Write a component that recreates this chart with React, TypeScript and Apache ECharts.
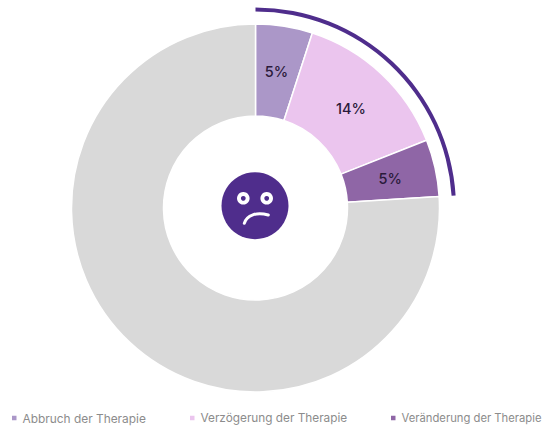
import React, { useEffect, useRef } from "react";
import * as echarts from "echarts";

const categories = ["Abbruch der Therapie", "Verzögerung der Therapie", "Veränderung der Therapie", "Sonstige"];
const shares = [5, 14, 5, 76];
const labels = ["5%", "14%", "5%", ""];
const colors = ["#AB97C8", "#EBC5EE", "#8F66A6", "#D9D9D9"];
const arcValues = [24, 76];
const legendLefts = [5, 183, 384];
const legendFontSizes = [11.9, 11.8, 11.26];

const FONT = "Inter, 'Noto Sans', sans-serif";
const DARK = "#4F2D8C";

export default function App() {
  const ref = useRef<HTMLDivElement>(null);
  useEffect(() => {
    const chart = echarts.init(ref.current!, null, { renderer: "svg" });
    const cx = 255.5;
    const cy = 208;
    chart.setOption({
      animation: false,
      backgroundColor: "#ffffff",
      legend: categories.slice(0, 3).map((name, i) => ({
        data: [name],
        left: legendLefts[i],
        top: 406,
        icon: "rect",
        itemWidth: 6.5,
        itemHeight: 6.5,
        textStyle: { color: "#8c8c8c", fontSize: legendFontSizes[i], lineHeight: 14, fontFamily: FONT },
      })),
      series: [
        {
          type: "pie",
          center: [cx, cy],
          radius: [92, 184],
          startAngle: 90,
          clockwise: true,
          silent: true,
          label: { show: true, position: "inside", color: "#2a1a3a", fontSize: 14.5, fontWeight: 500, fontFamily: FONT },
          labelLine: { show: false },
          itemStyle: { borderColor: "#ffffff", borderWidth: 1.5 },
          data: categories.map((name, i) => ({
            name,
            value: shares[i],
            itemStyle: { color: colors[i] },
            label: { formatter: labels[i], offset: i === 2 ? [-3, 1] : [-1, 3] },
          })),
        },
        {
          type: "pie",
          center: [cx, cy],
          radius: [196.5, 200.5],
          startAngle: 90,
          clockwise: true,
          silent: true,
          label: { show: false },
          labelLine: { show: false },
          data: arcValues.map((value, i) => ({
            name: i === 0 ? "arc" : "rest",
            value,
            itemStyle: { color: i === 0 ? DARK : "transparent" },
          })),
        },
      ],
      graphic: [
        { type: "circle", shape: { cx: 255, cy: 205.7, r: 33.5 }, style: { fill: DARK }, z: 10 },
        { type: "circle", shape: { cx: 243.3, cy: 198.3, r: 6.3 }, style: { fill: "#ffffff" }, z: 11 },
        { type: "circle", shape: { cx: 266.7, cy: 198.3, r: 6.3 }, style: { fill: "#ffffff" }, z: 11 },
        { type: "circle", shape: { cx: 243.3, cy: 198.3, r: 2.4 }, style: { fill: DARK }, z: 12 },
        { type: "circle", shape: { cx: 266.7, cy: 198.3, r: 2.4 }, style: { fill: DARK }, z: 12 },
        {
          type: "bezierCurve",
          shape: { x1: 244.3, y1: 223.3, cpx1: 246.7, cpy1: 215, cpx2: 256.7, cpy2: 211.7, x2: 268.3, y2: 215 },
          style: { stroke: "#ffffff", lineWidth: 3, lineCap: "round", fill: "none" },
          z: 11,
        },
      ],
    });
    return () => chart.dispose();
  }, []);
  return <div ref={ref} style={{ position: "absolute", left: 0, top: 0, width: 551, height: 429 }} />;
}
